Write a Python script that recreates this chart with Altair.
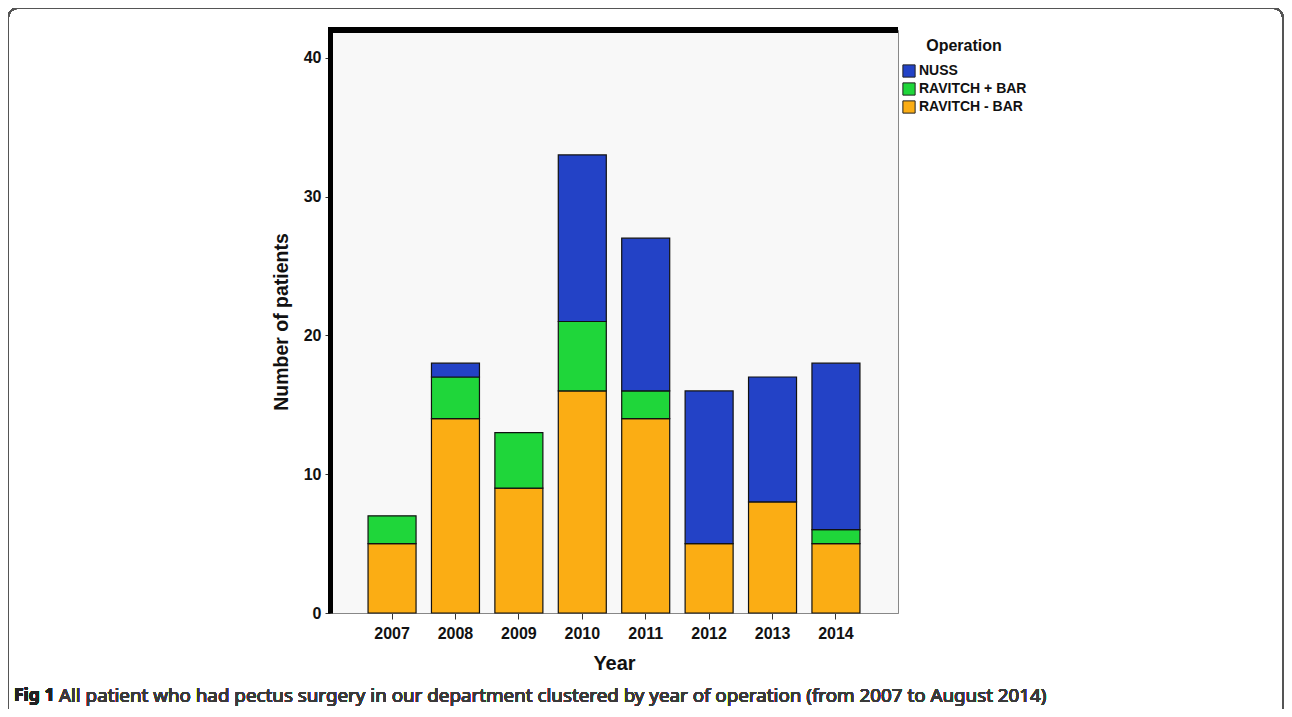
import altair as alt
import pandas as pd

years = ["2007", "2008", "2009", "2010", "2011", "2012", "2013", "2014"]
ravitch_minus_bar = [5, 14, 9, 16, 14, 5, 8, 5]
ravitch_plus_bar = [2, 3, 4, 5, 2, 0, 0, 1]
nuss = [0, 1, 0, 12, 11, 11, 9, 12]

ops = ["NUSS", "RAVITCH + BAR", "RAVITCH - BAR"]
op_colors = ["#2342c6", "#1fd63a", "#fbad14"]
stack_order = {"RAVITCH - BAR": 0, "RAVITCH + BAR": 1, "NUSS": 2}

rows = []
for i, y in enumerate(years):
    for op, vals in [("RAVITCH - BAR", ravitch_minus_bar), ("RAVITCH + BAR", ravitch_plus_bar), ("NUSS", nuss)]:
        if vals[i] > 0:
            rows.append({"Year": y, "Operation": op, "Count": vals[i], "ord": stack_order[op]})
df = pd.DataFrame(rows)

W, H = 568, 583
FONT = "Liberation Sans"
CAP_FONT = "Noto Sans"

bars = alt.Chart(df).mark_bar(stroke="#111111", strokeWidth=1.2).encode(
    x=alt.X("Year:N", sort=years,
            scale=alt.Scale(paddingInner=0.243, paddingOuter=0.6),
            axis=alt.Axis(title="Year", labelAngle=0, labelFont=FONT, labelFontSize=16,
                          labelFontWeight="bold", labelColor="#111", labelPadding=6,
                          tickSize=6, tickColor="#333", domainColor="#888", domainWidth=1,
                          titleFont=FONT, titleFontSize=20, titleFontWeight="bold",
                          titleColor="#111", titlePadding=12)),
    y=alt.Y("Count:Q", stack="zero",
            scale=alt.Scale(domain=[0, 42], nice=False),
            axis=alt.Axis(title="Number of patients", values=[0, 10, 20, 30, 40], grid=False,
                          labelFont=FONT, labelFontSize=16, labelFontWeight="bold",
                          labelColor="#111", labelPadding=4, tickSize=5, tickColor="#333",
                          domainColor="#000", domainWidth=5,
                          titleFont=FONT, titleFontSize=19.5, titleFontWeight="bold",
                          titleColor="#111", titlePadding=12)),
    color=alt.Color("Operation:N", sort=ops,
                    scale=alt.Scale(domain=ops, range=op_colors),
                    legend=alt.Legend(title="Operation", orient="none", legendX=572, legendY=8,
                                      titleAnchor="middle",
                                      symbolType="square", symbolSize=150,
                                      symbolStrokeColor="#222", symbolStrokeWidth=1,
                                      symbolOpacity=1,
                                      titleFont=FONT, titleFontSize=16, titleFontWeight="bold",
                                      titleColor="#111", titlePadding=10,
                                      labelFont=FONT, labelFontSize=14, labelFontWeight="bold",
                                      labelColor="#111", rowPadding=0, labelOffset=3)),
    order=alt.Order("ord:Q"),
)

top_rule = alt.Chart(df).mark_rule(color="#000", strokeWidth=6).encode(
    x=alt.value(-2), x2=alt.value(W), y=alt.value(0)
)

frame = alt.Chart(df).mark_rect(filled=False, stroke="#555", strokeWidth=1.5, cornerRadius=10).encode(
    x=alt.value(-322), x2=alt.value(953), y=alt.value(-22), y2=alt.value(700)
)

cap1 = alt.Chart(df).mark_text(align="left", baseline="middle", font=CAP_FONT,
                               fontSize=17.5, fontWeight="bold", color="#222").encode(
    x=alt.value(-316), y=alt.value(666), text=alt.value("Fig 1")
)
cap2 = alt.Chart(df).mark_text(align="left", baseline="middle", font=CAP_FONT,
                               fontSize=18.8, fontWeight="normal", color="#3a3a3a").encode(
    x=alt.value(-271), y=alt.value(666),
    text=alt.value("All patient who had pectus surgery in our department clustered by year of operation (from 2007 to August 2014)")
)

chart = alt.layer(bars, top_rule, frame, cap1, cap2).properties(
    width=W, height=H,
    autosize=alt.AutoSizeParams(type="none"),
    padding={"left": 322, "top": 22, "right": 386, "bottom": 96},
    background="white",
).configure_view(
    fill="#f8f8f8", stroke="#888", strokeWidth=1
)

chart.save("out.html", embed_options={"renderer": "svg", "actions": False})
